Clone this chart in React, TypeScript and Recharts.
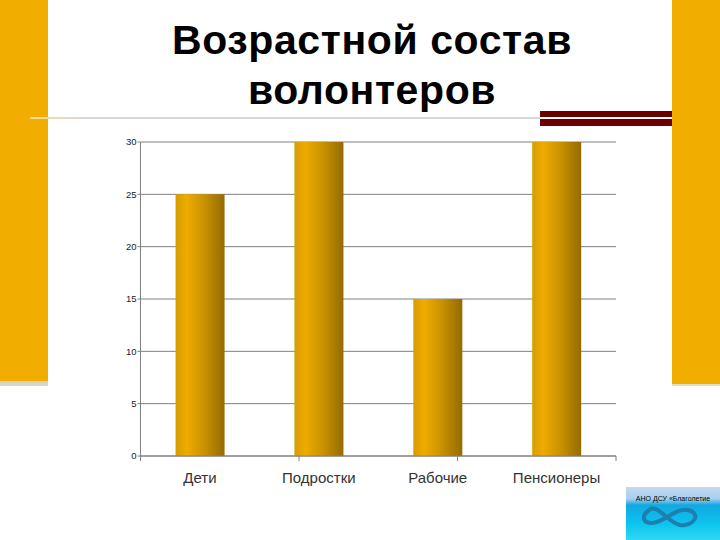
import React from "react";
import { BarChart, Bar, XAxis, YAxis, CartesianGrid } from "recharts";

const titleLines = ["Возрастной состав", "волонтеров"];
const categories = ["Дети", "Подростки", "Рабочие", "Пенсионеры"];
const values = [25, 30, 15, 30];
const yTicks = [0, 5, 10, 15, 20, 25, 30];
const boundaryTicks = [0, 1, 2, 3, 4];
const logoText = "АНО ДСУ «Благолетие";

const data = categories.map((name, i) => ({ name, value: values[i] }));
const font = "'Liberation Sans', Arial, sans-serif";

const box = (left: number, top: number, width: number, height: number, background: string): React.CSSProperties => ({
  position: "absolute", left, top, width, height, background,
});

export default function App() {
  return (
    <div style={{ position: "absolute", left: 0, top: 0, width: 720, height: 540, background: "#fff", overflow: "hidden", fontFamily: font }}>
      <div style={box(0, 0, 48, 381, "#f2ae00")} />
      <div style={box(0, 381, 48, 5, "linear-gradient(#d9d0b8,#d8d8d8)")} />
      <div style={box(672, 0, 48, 384, "#f2ae00")} />
      <div style={box(672, 384, 48, 2, "#e6dcc0")} />
      <div style={box(30, 117, 510, 2, "linear-gradient(90deg,#f5dc9a 0,#d8d8d8 60px)")} />
      <div style={box(540, 111, 132, 6, "#6b0000")} />
      <div style={box(540, 119, 132, 7, "#6b0000")} />

      <div style={{ position: "absolute", left: 122, top: 15, width: 500, textAlign: "center", fontSize: 41, fontWeight: 700, lineHeight: "50px", color: "#000", letterSpacing: 0.6 }}>
        {titleLines.map((t) => <div key={t}>{t}</div>)}
      </div>

      <div style={{ position: "absolute", left: 0, top: 0 }}>
        <BarChart width={720} height={540} data={data} margin={{ top: 142, right: 104, bottom: 0, left: 40.5 }} barCategoryGap="29.5%">
          <defs>
            <linearGradient id="barFill" x1="0" y1="0" x2="1" y2="0">
              <stop offset="0%" stopColor="#d69c00" />
              <stop offset="22%" stopColor="#efac00" />
              <stop offset="60%" stopColor="#c79000" />
              <stop offset="100%" stopColor="#946b04" />
            </linearGradient>
          </defs>
          <CartesianGrid vertical={false} stroke="#808080" strokeWidth={1} />
          <XAxis xAxisId="cat" dataKey="name" height={84} axisLine={{ stroke: "#808080" }} tickLine={false} tickMargin={10} interval={0} tick={{ fontSize: 15, fill: "#333", fontFamily: font }} />
          <XAxis xAxisId="marks" type="number" domain={[0, 4]} ticks={boundaryTicks} height={5} axisLine={false} tickLine={{ stroke: "#808080" }} tickSize={-5} tick={() => <g />} interval={0} mirror />
          <YAxis domain={[0, 30]} ticks={yTicks} width={100} axisLine={{ stroke: "#808080" }} tickLine={{ stroke: "#808080" }} tickSize={3} tickMargin={1} interval={0} tick={{ fontSize: 9.5, fill: "#222", fontFamily: font }} />
          <Bar xAxisId="cat" dataKey="value" fill="url(#barFill)" isAnimationActive={false} />
        </BarChart>
      </div>

      <div style={{ position: "absolute", left: 626, top: 487, width: 94, height: 53, background: "linear-gradient(#c4d8ee 0,#a8d0f0 22%,#12a8e0 34%,#0cc4ee 70%,#30d8f4 100%)", overflow: "hidden" }}>
        <div style={{ position: "absolute", left: 0, top: 8, width: 94, textAlign: "center", fontSize: 7, color: "#000", whiteSpace: "nowrap" }}>{logoText}</div>
        <svg width={94} height={53} style={{ position: "absolute", left: 0, top: 0 }}>
          <path d="M22 24 C 30 14, 42 36, 54 38 C 68 40, 76 26, 62 23 C 50 20, 38 36, 26 36 C 16 36, 16 28, 22 24 Z" fill="none" stroke="#1d7fb0" strokeWidth={4} />
        </svg>
      </div>
    </div>
  );
}
